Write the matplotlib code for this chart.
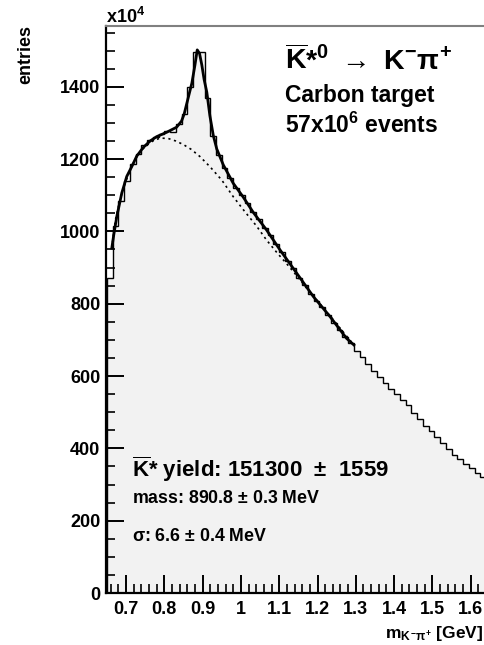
import numpy as np
import matplotlib.pyplot as plt
from matplotlib.ticker import MultipleLocator

plt.rcParams['font.family'] = 'Liberation Sans'
plt.rcParams['font.weight'] = 'bold'
plt.rcParams['mathtext.fontset'] = 'custom'
plt.rcParams['mathtext.rm'] = 'Liberation Sans:bold'
plt.rcParams['mathtext.it'] = 'Liberation Sans:bold'
plt.rcParams['mathtext.bf'] = 'Liberation Sans:bold'
plt.rcParams['mathtext.sf'] = 'Liberation Sans:bold'

# K- pi+ invariant mass, 15 MeV bins starting at 0.65 GeV (entries in units of 10^4)
bin_lo = 0.65
bin_width = 0.015
counts = [870, 1015, 1085, 1140, 1185, 1215, 1238, 1252, 1262, 1270,
          1278, 1276, 1296, 1325, 1400, 1495, 1497, 1370, 1265, 1210,
          1175, 1148, 1120, 1102, 1078, 1054, 1035, 1010, 990, 965,
          942, 918, 898, 872, 853, 828, 808, 790, 768, 748,
          728, 708, 690, 668, 652, 632, 615, 598, 582, 565,
          550, 535, 519, 497, 480, 463, 447, 431, 414, 397,
          381, 370, 358, 346, 333, 320]

# total fit (signal + background)
fit_m = [0.663, 0.668, 0.676, 0.689, 0.702, 0.715, 0.728, 0.745, 0.763, 0.780,
         0.806, 0.832, 0.845, 0.852, 0.859, 0.872, 0.880, 0.886, 0.892, 0.898,
         0.904, 0.911, 0.919, 0.928, 0.937, 0.954, 0.980, 1.006, 1.032, 1.067,
         1.102, 1.146, 1.189, 1.233, 1.276, 1.295]
fit_v = [954, 990, 1041, 1106, 1152, 1179, 1208, 1232, 1250, 1262,
         1274, 1288, 1305, 1325, 1355, 1410, 1460, 1502, 1492, 1460,
         1420, 1385, 1320, 1265, 1228, 1184, 1133, 1095, 1053, 1004,
         949, 884, 820, 764, 704, 686]

# background only
bg_m = [0.663, 0.672, 0.685, 0.700, 0.715, 0.730, 0.750, 0.770, 0.789, 0.810,
        0.830, 0.850, 0.870, 0.893, 0.920, 0.950, 0.980, 1.010, 1.040, 1.067,
        1.095, 1.120, 1.150, 1.180, 1.210, 1.240, 1.270, 1.295]
bg_v = [954, 1030, 1090, 1140, 1180, 1210, 1235, 1250, 1258, 1257,
        1250, 1240, 1227, 1207, 1178, 1142, 1096, 1055, 1016, 976,
        940, 910, 872, 832, 795, 757, 718, 686]

xticks = [0.7, 0.8, 0.9, 1.0, 1.1, 1.2, 1.3, 1.4, 1.5, 1.6]
xticklabels = ['0.7', '0.8', '0.9', '1', '1.1', '1.2', '1.3', '1.4', '1.5', '1.6']
yticks = [0, 200, 400, 600, 800, 1000, 1200, 1400]

W, H = 484, 645
fig = plt.figure(figsize=(W / 100, H / 100), dpi=100)
ax = fig.add_axes([106 / W, 1 - 593 / H, 1 - 106 / W, (593 - 26) / H])

edges = bin_lo + bin_width * np.arange(len(counts) + 1)
ax.stairs(counts, edges, fill=True, color='#f2f2f2', lw=0)
ax.stairs(counts, edges, color='black', lw=1.0)
ax.plot(bg_m, bg_v, color='black', lw=1.2, ls=(0, (1.3, 2.2)))
ax.plot(fit_m, fit_v, color='black', lw=2.0)

ax.set_xlim(0.6478, 1.6347)
ax.set_ylim(0, 1568)

ax.set_xticks(xticks)
ax.set_xticklabels(xticklabels)
ax.set_yticks(yticks)
ax.xaxis.set_minor_locator(MultipleLocator(0.02))
ax.yaxis.set_minor_locator(MultipleLocator(50))
ax.tick_params(which='major', direction='in', length=13, width=1.4, labelsize=13, pad=4)
ax.tick_params(which='minor', direction='in', length=6.5, width=1.2)
ax.tick_params(axis='x', pad=6)
for lab in ax.get_xticklabels() + ax.get_yticklabels():
    lab.set_fontweight('bold')

ax.spines['left'].set_linewidth(1.6)
ax.spines['bottom'].set_linewidth(1.6)
ax.spines['top'].set_color('#808080')
ax.spines['top'].set_linewidth(1.5)
ax.spines['right'].set_visible(False)


def px(x, y):
    return x / W, 1 - y / H


fig.text(*px(26, 25), 'entries', rotation=90, ha='center', va='top', fontsize=13)
fig.text(*px(106, 23), r'x10$^{4}$', ha='left', va='baseline', fontsize=13)

fig.text(*px(285, 70), r'$\overline{K}$*$^{0}$ $\rightarrow$ K$^{-}$$\pi^{+}$',
         ha='left', va='baseline', fontsize=20.5)
fig.text(*px(285, 101.7), 'Carbon target', ha='left', va='baseline', fontsize=16.5)
fig.text(*px(285, 133), r'57x10$^{6}$ events', ha='left', va='baseline', fontsize=16.5)

fig.text(*px(132, 476.7), r'$\overline{K}$* yield: 151300  $\pm$  1559',
         ha='left', va='baseline', fontsize=16)
fig.text(*px(132, 503), r'mass: 890.8 $\pm$ 0.3 MeV', ha='left', va='baseline', fontsize=12.8)
fig.text(*px(132, 541), r'$\sigma$: 6.6 $\pm$ 0.4 MeV', ha='left', va='baseline', fontsize=12.8)

fig.text(*px(483, 638), r'm$_{K^{-}\pi^{+}}$ [GeV]', ha='right', va='baseline', fontsize=12.5)

fig.savefig('out.png', dpi=100)
